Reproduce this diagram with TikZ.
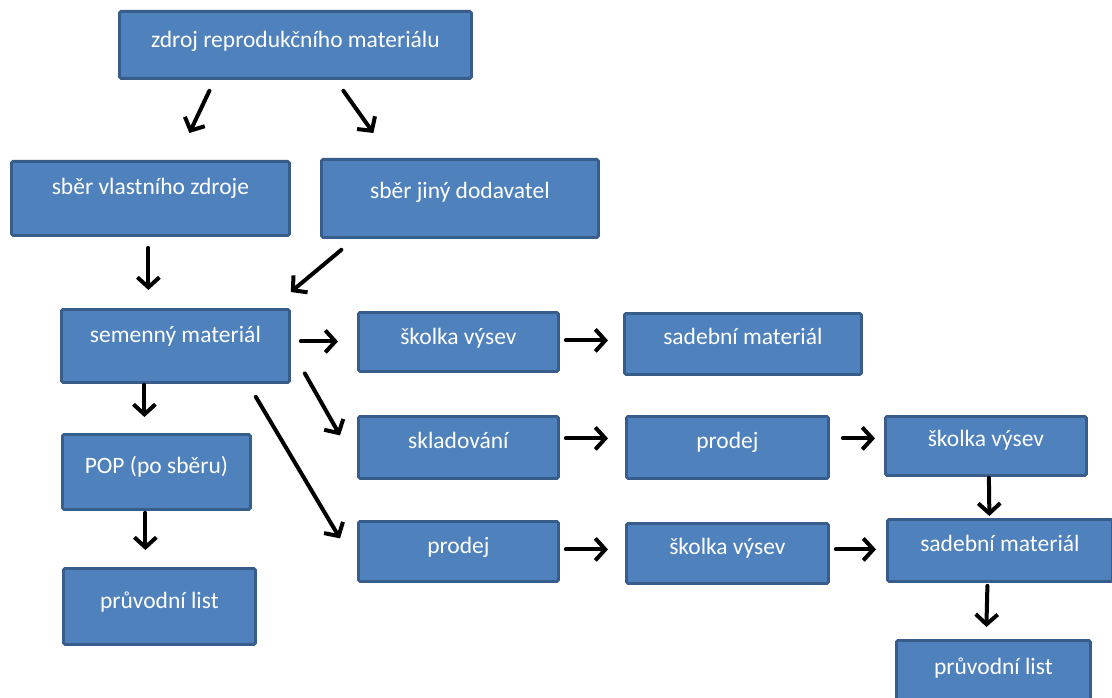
\documentclass[tikz,border=0pt]{standalone}
\usepackage{fontspec}
\setmainfont{Carlito}
\usetikzlibrary{arrows.meta,calc}
\definecolor{boxfill}{HTML}{4F81BD}
\definecolor{boxline}{HTML}{385D8A}
\tikzset{
  box/.style={draw=boxline, fill=boxfill, line width=2.8pt, rounded corners=1.5pt,
    inner sep=0pt, anchor=north west, text=white, font=\fontsize{23.5}{25}\selectfont,
    text height=17pt, text depth=#1},
  box/.default=14pt,
  arr/.style={line width=4pt, line cap=round, -{Straight Barb[length=10pt,width=22pt,line width=4pt]}},
}
\newcommand{\mybox}[7]{%
  \node[box=#7, minimum width={(#4-#2)*1pt}, minimum height={(#5-#3)*1pt}] (#1) at (#2,#3) {#6};}
\begin{document}
\begin{tikzpicture}[x=1pt,y=-1pt]
\clip (0,0) rectangle (1112,698);
\fill[white] (0,0) rectangle (1112,698);
\mybox{zdroj}{118}{10}{470}{77}{zdroj reprodukčního materiálu}{11pt}
\mybox{sv}{10}{160}{288}{234}{sběr vlastního zdroje}{25pt}
\mybox{sj}{320}{158}{597}{236}{sběr jiný dodavatel}{17pt}
\mybox{sem}{60}{308}{288}{381}{semenný materiál}{24pt}
\mybox{pop}{61}{433}{249}{508}{POP (po sběru)}{14pt}
\mybox{pla}{62}{567}{254}{643}{průvodní list}{13pt}
\mybox{ska}{357}{311}{557}{370}{školka výsev}{12pt}
\mybox{sada}{623}{312}{860}{373}{sadební materiál}{16pt}
\mybox{skl}{357}{415}{557}{477}{skladování}{15pt}
\mybox{pra}{625}{415}{827}{477}{prodej}{15pt}
\mybox{skb}{884}{415}{1085}{474}{školka výsev}{16pt}
\mybox{prb}{357}{520}{557}{580}{prodej}{13pt}
\mybox{skc}{625}{522}{827}{582}{školka výsev}{15pt}
\mybox{sadb}{886}{518}{1111}{580}{sadební materiál}{15pt}
\mybox{plb}{895}{639}{1089}{705}{průvodní list}{15pt}
\draw[arr] ([shift={(-86,11)}]zdroj.south) -- ([shift={(39,-27)}]sv.north);
\draw[arr] ([shift={(48,11)}]zdroj.south) -- ([shift={(-86.5,-25)}]sj.north);
\draw[arr] ([shift={(-2,11)}]sv.south) -- ([shift={(-27,-18)}]sem.north);
\draw[arr] ([shift={(-118.5,11)}]sj.south) -- ([shift={(0,-16)}]sem.north east);
\draw[arr] ([shift={(10,-4.5)}]sem.east) -- ([shift={(-19,-0.5)}]ska.west);
\draw[arr] ([shift={(14,27.5)}]sem.east) -- ([shift={(-17,-12)}]skl.west);
\draw[arr] ([shift={(-35,13)}]sem.south east) -- ([shift={(-17,-13)}]prb.west);
\draw[arr] ([shift={(-31,1)}]sem.south) -- ([shift={(-12,-16)}]pop.north);
\draw[arr] ([shift={(-11,2)}]pop.south) -- ([shift={(-14,-17)}]pla.north);
\draw[arr] ([shift={(6,-1.5)}]ska.east) -- ([shift={(-15,-3.5)}]sada.west);
\draw[arr] ([shift={(6,-9)}]skl.east) -- ([shift={(-17,-9)}]pra.west);
\draw[arr] ([shift={(13,-9)}]pra.east) -- ([shift={(-9,-7.5)}]skb.west);
\draw[arr] ([shift={(3,1)}]skb.south) -- ([shift={(-10.5,-2)}]sadb.north);
\draw[arr] ([shift={(6,-2)}]prb.east) -- ([shift={(-17,-4)}]skc.west);
\draw[arr] ([shift={(6,-4)}]skc.east) -- ([shift={(-10,-1)}]sadb.west);
\draw[arr] ([shift={(-12.5,3)}]sadb.south) -- ([shift={(-7,-12)}]plb.north);
\end{tikzpicture}
\end{document}
